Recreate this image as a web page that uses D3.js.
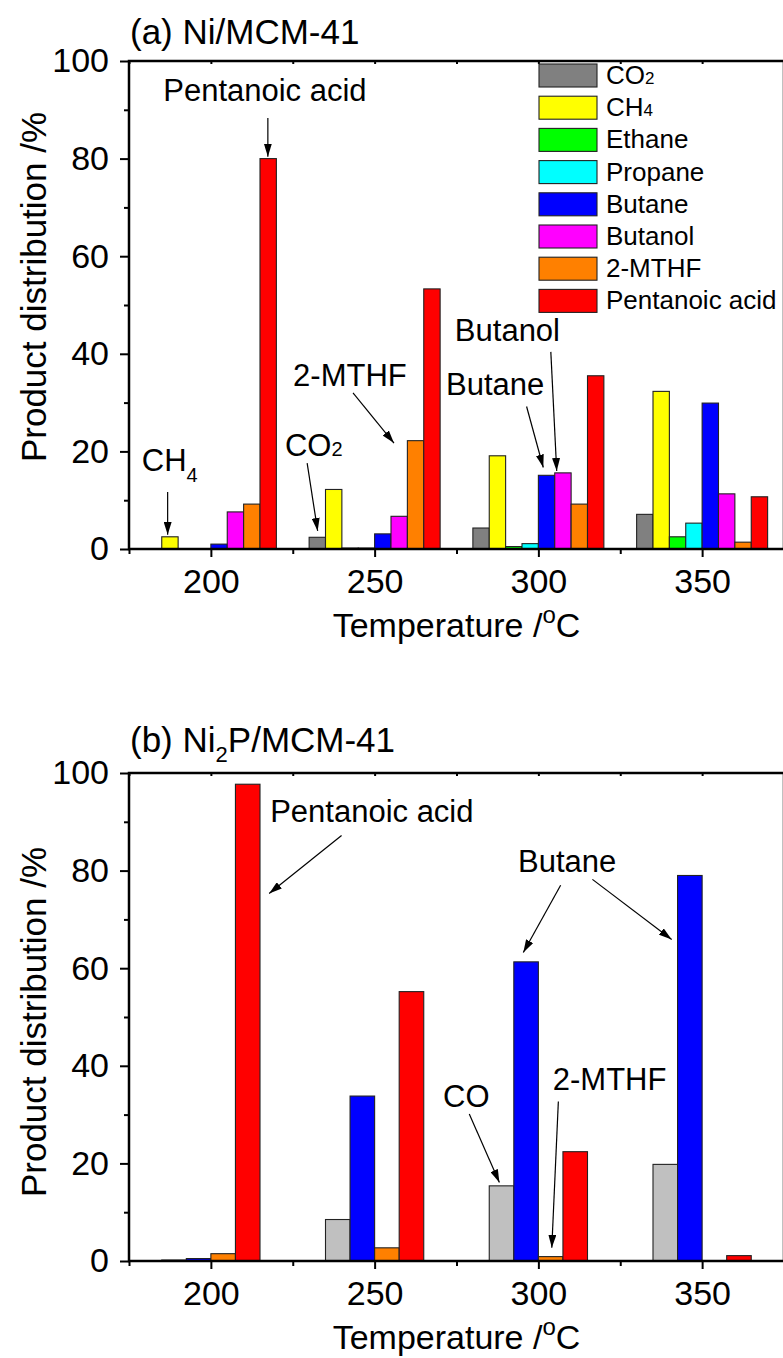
<!DOCTYPE html>
<html lang="en">
<head>
<meta charset="UTF-8">
<title>Product distribution</title>
<style>
    body {
        margin: 0;
        background: #fff;
    }

    svg {
        display: block;
        font-family: Arial, 'Liberation Sans', sans-serif;
    }

    .axis text {
        font-size: 34px;
        fill: #000;
    }

    .axis line {
        stroke: #000;
        stroke-width: 2;
    }

    .note {
        font-size: 31px;
    }

    .legend text {
        font-size: 26px;
    }
</style>
</head>
<body>
<div id="chart"></div>
<script src="https://d3js.org/d3.v7.min.js"></script>
<script>
    const temps = [200, 250, 300, 350];

    // (a) Ni/MCM-41
    const productsA = ["CO2", "CH4", "Ethane", "Propane", "Butane", "Butanol", "2-MTHF", "Pentanoic acid"];
    const co2A = [0, 2.4, 4.3, 7.1];
    const ch4A = [2.5, 12.2, 19.1, 32.3];
    const ethaneA = [0, 0.2, 0.5, 2.5];
    const propaneA = [0, 0.2, 1.1, 5.3];
    const butaneA = [1.0, 3.1, 15.1, 29.9];
    const butanolA = [7.6, 6.7, 15.6, 11.3];
    const mthfA = [9.2, 22.2, 9.2, 1.4];
    const pentanoicA = [80.0, 53.3, 35.5, 10.7];

    // (b) Ni2P/MCM-41
    const productsB = ["CO", "Butane", "2-MTHF", "Pentanoic acid"];
    const coB = [0.2, 8.5, 15.4, 19.8];
    const butaneB = [0.5, 33.8, 61.3, 79.0];
    const mthfB = [1.5, 2.7, 0.9, 0];
    const pentanoicB = [97.7, 55.2, 22.4, 1.1];

    const xTicks = [200, 250, 300, 350];
    const xMinor = [175, 225, 275, 325, 375];
    const yTicks = [0, 20, 40, 60, 80, 100];
    const yMinor = [10, 30, 50, 70, 90];

    const colorsA = ["#808080", "#ffff00", "#00ff00", "#00ffff", "#0000ff", "#ff00ff", "#ff8000", "#ff0000"];
    const colorsB = ["#c0c0c0", "#0000ff", "#ff8000", "#ff0000"];

    // annotations in data units: text anchor (temperature, %) and arrows
    const notesA = [
        { parts: [["Pentanoic acid"]], x: 216.5, y: 91.8, anchor: "middle", arrows: [[217.4, 88.3, 217.4, 80.4]] },
        { parts: [["CH"], ["4", "sub"]], x: 178.9, y: 16.0, arrows: [[186.8, 11.7, 186.8, 2.9]] },
        { parts: [["CO"], ["2", "small"]], x: 222.6, y: 19.1, arrows: [[229.4, 17.6, 232.6, 3.7]] },
        { parts: [["2-MTHF"]], x: 225.1, y: 33.4, arrows: [[243.4, 32.0, 255.9, 21.7]] },
        { parts: [["Butanol"]], x: 274.5, y: 42.6, arrows: [[303.8, 40.4, 305.6, 16.0]] },
        { parts: [["Butane"]], x: 271.8, y: 31.6, arrows: [[296.4, 29.2, 301.5, 16.7]] }
    ];

    const notesB = [
        { parts: [["Pentanoic acid"]], x: 218.1, y: 89.9, arrows: [[239.9, 87.2, 217.8, 75.3]] },
        { parts: [["Butane"]], x: 293.8, y: 79.7, arrows: [[306.8, 77.0, 295.4, 63.2], [316.5, 78.2, 340.7, 65.9]] },
        { parts: [["CO"]], x: 270.9, y: 31.6, arrows: [[278.9, 30.1, 288.1, 16.1]] },
        { parts: [["2-MTHF"]], x: 304.4, y: 35.1, arrows: [[306.1, 32.7, 304.1, 2.7]] }
    ];

    const width = 783;
    const height = 1358;
    const left = 129;
    const plotW = 655;
    const plotH = 488;

    const svg = d3.select('#chart')
        .append('svg')
        .attr('width', width)
        .attr('height', height);

    svg.append('defs').append('marker')
        .attr('id', 'arrow')
        .attr('markerUnits', 'userSpaceOnUse')
        .attr('markerWidth', 13)
        .attr('markerHeight', 8)
        .attr('refX', 13)
        .attr('refY', 4)
        .attr('orient', 'auto')
        .append('path')
        .attr('d', 'M0,0 L13,4 L0,8 Z')
        .attr('fill', '#000');

    const addParts = (textSel, parts, subSize) => {
        parts.forEach(([str, kind]) => {
            const t = textSel.append('tspan').text(str);
            if (kind === 'sub') {
                t.attr('font-size', subSize).attr('dy', 11);
            } else if (kind === 'small') {
                t.attr('font-size', subSize);
            }
        });
    };

    const drawPanel = (cfg) => {
        const x = d3.scaleLinear().domain([175, 375]).range([0, plotW]);
        const y = d3.scaleLinear().domain([0, 100]).range([plotH, 0]);

        const g = svg.append('g')
            .attr('transform', `translate(${left}, ${cfg.top})`);

        // bars
        const n = cfg.series.length;
        const bw = x(cfg.barW) - x(0);
        cfg.series.forEach((vals, i) => {
            g.append('g')
                .selectAll('rect')
                .data(temps.map((t, j) => ({ t, v: vals[j] })).filter(d => d.v > 0))
                .enter()
                .append('rect')
                .attr('x', d => x(d.t + (i - n / 2) * cfg.barW))
                .attr('y', d => y(d.v))
                .attr('width', bw)
                .attr('height', d => y(0) - y(d.v))
                .attr('fill', cfg.colors[i])
                .attr('stroke', '#222')
                .attr('stroke-width', 1.1);
        });

        // axes
        g.append('g')
            .attr('class', 'axis')
            .attr('transform', `translate(0, ${plotH})`)
            .call(d3.axisBottom(x).tickValues(xTicks).tickFormat(d3.format('d')).tickSize(8).tickPadding(12))
            .select('.domain').remove();

        g.append('g')
            .attr('class', 'axis')
            .attr('transform', `translate(0, ${plotH})`)
            .call(d3.axisBottom(x).tickValues(xMinor).tickFormat('').tickSize(5))
            .select('.domain').remove();

        g.append('g')
            .attr('class', 'axis')
            .call(d3.axisLeft(y).tickValues(yTicks).tickSize(9).tickPadding(11))
            .select('.domain').remove();

        g.append('g')
            .attr('class', 'axis')
            .call(d3.axisLeft(y).tickValues(yMinor).tickFormat('').tickSize(5))
            .select('.domain').remove();

        // mirrored short ticks on the top edge
        g.append('g')
            .attr('class', 'axis')
            .call(d3.axisBottom(x).tickValues(xTicks.concat(xMinor)).tickFormat('').tickSize(3))
            .select('.domain').remove();

        // frame
        g.append('rect')
            .attr('x', 0)
            .attr('y', 0)
            .attr('width', plotW)
            .attr('height', plotH)
            .attr('fill', 'none')
            .attr('stroke', '#000')
            .attr('stroke-width', 2.5);

        // axis titles
        const xt = g.append('text')
            .attr('x', plotW / 2)
            .attr('y', plotH + 88)
            .attr('text-anchor', 'middle')
            .attr('font-size', 34);
        xt.append('tspan').text('Temperature /');
        xt.append('tspan').text('o').attr('font-size', 24).attr('dy', -14);
        xt.append('tspan').text('C').attr('dy', 14);

        g.append('text')
            .attr('transform', `translate(${46 - left}, ${cfg.yTitleMid}) rotate(-90)`)
            .attr('text-anchor', 'middle')
            .attr('font-size', 35)
            .text('Product distribution /%');

        // panel title
        const tt = g.append('text')
            .attr('x', 1)
            .attr('y', cfg.titleDy)
            .attr('font-size', 35);
        cfg.title.forEach(([str, kind]) => {
            const t = tt.append('tspan').text(str);
            if (kind === 'sub') t.attr('font-size', 22).attr('dy', 10);
            if (kind === 'after') t.attr('dy', -10);
        });

        // annotations
        cfg.notes.forEach(note => {
            const t = g.append('text')
                .attr('class', 'note')
                .attr('x', x(note.x))
                .attr('y', y(note.y))
                .attr('text-anchor', note.anchor || 'start');
            addParts(t, note.parts, 20);

            note.arrows.forEach(([x1, y1, x2, y2]) => {
                g.append('line')
                    .attr('x1', x(x1))
                    .attr('y1', y(y1))
                    .attr('x2', x(x2))
                    .attr('y2', y(y2))
                    .attr('stroke', '#000')
                    .attr('stroke-width', 1.2)
                    .attr('marker-end', 'url(#arrow)');
            });
        });

        // legend
        if (cfg.legend) {
            const lg = svg.append('g').attr('class', 'legend');
            cfg.names.forEach((name, i) => {
                const row = lg.append('g')
                    .attr('transform', `translate(539, ${64 + i * 32.2})`);
                row.append('rect')
                    .attr('width', 58)
                    .attr('height', 23)
                    .attr('fill', cfg.colors[i])
                    .attr('stroke', '#222')
                    .attr('stroke-width', 1.1);
                const t = row.append('text')
                    .attr('x', 67)
                    .attr('y', 20);
                const m = name.match(/^(C[OH])(\d)$/);
                if (m) {
                    t.append('tspan').text(m[1]);
                    t.append('tspan').text(m[2]).attr('font-size', 17);
                } else {
                    t.text(name);
                }
            });
        }
    };

    drawPanel({
        top: 61,
        series: [co2A, ch4A, ethaneA, propaneA, butaneA, butanolA, mthfA, pentanoicA],
        names: productsA,
        colors: colorsA,
        barW: 5,
        title: [["(a) Ni/MCM-41"]],
        titleDy: -17,
        yTitleMid: 226,
        notes: notesA,
        legend: true
    });

    drawPanel({
        top: 773,
        series: [coB, butaneB, mthfB, pentanoicB],
        names: productsB,
        colors: colorsB,
        barW: 7.5,
        title: [["(b) Ni"], ["2", "sub"], ["P/MCM-41", "after"]],
        titleDy: -21,
        yTitleMid: 249,
        notes: notesB,
        legend: false
    });
</script>
</body>
</html>
